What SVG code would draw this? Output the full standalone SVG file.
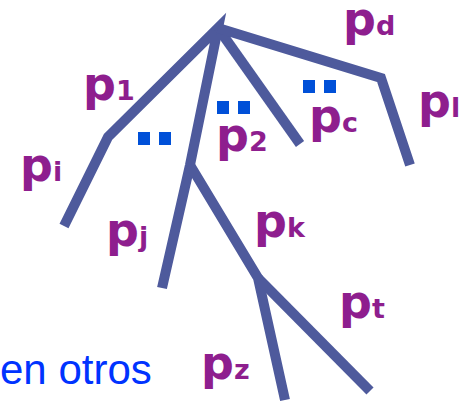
<svg xmlns="http://www.w3.org/2000/svg" width="471" height="404" viewBox="0 0 471 404">
<style>
.e{fill:none;stroke:#4e5a9c;stroke-width:10;stroke-linecap:butt;stroke-linejoin:miter}
.p{font-family:"DejaVu Sans",sans-serif;font-weight:bold;fill:#8e1e8e;font-size:46px}
.s{font-size:27px}
.d{fill:#0050d8}
.t{font-family:"Liberation Sans",Arial,sans-serif;font-size:42px;fill:#0033ff}
</style>
<rect width="471" height="404" fill="#fff"/>
<g id="edges">
<polyline class="e" points="64,226 108,137 218,28 190,165 162,288"/>
<polyline class="e" points="190,165 258,278 285,400"/>
<line class="e" x1="258" y1="278" x2="370" y2="391"/>
<line class="e" x1="218" y1="28" x2="300" y2="144"/>
<polyline class="e" points="218,28 381,78 410,165"/>
</g>
<g id="dots">
<rect class="d" x="138" y="132" width="12" height="13"/><rect class="d" x="159" y="132" width="12" height="13"/>
<rect class="d" x="217" y="101" width="12" height="13"/><rect class="d" x="238" y="101" width="12" height="13"/>
<rect class="d" x="303" y="80" width="12" height="13"/><rect class="d" x="324" y="80" width="12" height="13"/>
</g>
<g id="p1"><text class="p" x="83" y="100">p<tspan class="s">1</tspan></text></g>
<g id="pi"><text class="p" x="20" y="181">p<tspan class="s">i</tspan></text></g>
<g id="p2"><text class="p" x="216" y="151">p<tspan class="s">2</tspan></text></g>
<g id="pc"><text class="p" x="309" y="132">p<tspan class="s">c</tspan></text></g>
<g id="pd"><text class="p" x="343" y="35">p<tspan class="s">d</tspan></text></g>
<g id="pl"><text class="p" x="418" y="117">p<tspan class="s">l</tspan></text></g>
<g id="pj"><text class="p" x="106" y="246">p<tspan class="s">j</tspan></text></g>
<g id="pk"><text class="p" x="254" y="237">p<tspan class="s">k</tspan></text></g>
<g id="pt"><text class="p" x="339" y="318">p<tspan class="s">t</tspan></text></g>
<g id="pz"><text class="p" x="201" y="379">p<tspan class="s">z</tspan></text></g>
<g id="note"><text class="t" x="0" y="384">en otros</text></g>
</svg>
